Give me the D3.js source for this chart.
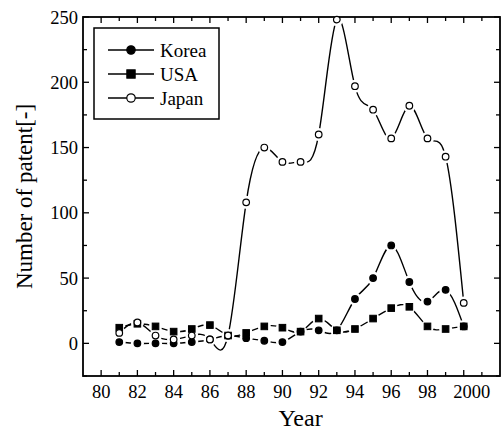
<!DOCTYPE html>
<html>
<head>
<meta charset="utf-8">
<script src="https://cdn.jsdelivr.net/npm/d3@7"></script>
<style>
  body { margin: 0; background: #fff; }
</style>
</head>
<body>
<svg id="chart" width="503" height="430" font-family="'Liberation Serif', 'DejaVu Serif', serif"></svg>
<script>
const years = [81, 82, 83, 84, 85, 86, 87, 88, 89, 90, 91, 92, 93, 94, 95, 96, 97, 98, 99, 100];
const korea = [1, 0, 0, 0, 1, 3, 6, 4, 2, 1, 9, 10, 10, 34, 50, 75, 47, 32, 41, 13];
const usa = [12, 15, 13, 9, 11, 14, 6, 8, 13, 12, 9, 19, 10, 11, 19, 27, 28, 13, 11, 13];
const japan = [8, 16, 6, 3, 6, 3, 6, 108, 150, 139, 139, 160, 248, 197, 179, 157, 182, 157, 143, 31];
const xTickLabels = ['80', '82', '84', '86', '88', '90', '92', '94', '96', '98', '2000'];

const series = [
  { name: 'Korea', values: korea, shape: 'circle', fill: '#000' },
  { name: 'USA', values: usa, shape: 'square', fill: '#000' },
  { name: 'Japan', values: japan, shape: 'circle', fill: '#fff' }
];

const svg = d3.select('#chart');
const margin = { top: 17, right: 3, bottom: 54, left: 83 };
const width = 503 - margin.left - margin.right;
const height = 430 - margin.top - margin.bottom;

const x = d3.scaleLinear().domain([79, 102]).range([0, width]);
const y = d3.scaleLinear().domain([-25, 250]).range([height, 0]);

const defs = svg.append('defs');
const g = svg.append('g').attr('transform', `translate(${margin.left},${margin.top})`);

defs.append('clipPath').attr('id', 'plotClip')
  .append('rect').attr('width', width).attr('height', height);

// axes: ticks point inward on all four sides
const majorX = d3.range(80, 101, 2);
const minorX = d3.range(81, 102, 2);
const majorY = d3.range(0, 251, 50);
const minorY = d3.range(-25, 250, 50);

function tickLines(sel, vals, scale, horizontal, pos, len) {
  sel.selectAll(null).data(vals).enter().append('line')
    .attr('x1', d => horizontal ? scale(d) : pos)
    .attr('x2', d => horizontal ? scale(d) : pos + len)
    .attr('y1', d => horizontal ? pos : scale(d))
    .attr('y2', d => horizontal ? pos + len : scale(d))
    .attr('stroke', '#000').attr('stroke-width', 1.3);
}
const ticks = g.append('g');
tickLines(ticks, majorX, x, true, height, -6);
tickLines(ticks, minorX, x, true, height, -4);
tickLines(ticks, majorX, x, true, 0, 6);
tickLines(ticks, minorX, x, true, 0, 4);
tickLines(ticks, majorY, y, false, 0, 6);
tickLines(ticks, minorY, y, false, 0, 4);
tickLines(ticks, majorY, y, false, width, -6);
tickLines(ticks, minorY, y, false, width, -4);

g.append('rect').attr('width', width).attr('height', height)
  .attr('fill', 'none').attr('stroke', '#000').attr('stroke-width', 1.8);

g.append('g').selectAll('text').data(majorX).enter().append('text')
  .attr('x', d => x(d)).attr('y', height + 22)
  .attr('dx', (d, i) => xTickLabels[i].length > 2 ? 8 : 0)
  .attr('text-anchor', 'middle').attr('font-size', 18.5)
  .text((d, i) => xTickLabels[i]);

g.append('g').selectAll('text').data(majorY).enter().append('text')
  .attr('x', -5).attr('y', d => y(d) + 6.5)
  .attr('text-anchor', 'end').attr('font-size', 18.5)
  .text(d => d);

g.append('text').attr('x', x(91)).attr('y', height + 50)
  .attr('text-anchor', 'middle').attr('font-size', 24).text('Year');

svg.append('text')
  .attr('transform', `translate(32,${margin.top + height / 2}) rotate(-90)`)
  .attr('text-anchor', 'middle').attr('font-size', 23).text('Number of patent[-]');

// series lines (with gaps around own markers) and markers
const line = d3.line().x((d, i) => x(years[i])).y(d => y(d)).curve(d3.curveNatural);
const plot = g.append('g').attr('clip-path', 'url(#plotClip)');

function drawMarker(sel, s, cx, cy, r) {
  if (s.shape === 'square') {
    sel.append('rect').attr('x', cx - r).attr('y', cy - r)
      .attr('width', 2 * r).attr('height', 2 * r)
      .attr('fill', s.fill).attr('stroke', '#000').attr('stroke-width', 1);
  } else {
    sel.append('circle').attr('cx', cx).attr('cy', cy).attr('r', r)
      .attr('fill', s.fill).attr('stroke', '#000').attr('stroke-width', 1.2);
  }
}

series.forEach((s, k) => {
  const m = defs.append('mask').attr('id', 'gap' + k)
    .attr('maskUnits', 'userSpaceOnUse')
    .attr('x', -20).attr('y', -20).attr('width', width + 40).attr('height', height + 40);
  m.append('rect').attr('x', -20).attr('y', -20)
    .attr('width', width + 40).attr('height', height + 40).attr('fill', 'white');
  m.selectAll('circle').data(s.values).enter().append('circle')
    .attr('cx', (d, i) => x(years[i])).attr('cy', d => y(d)).attr('r', 6.5).attr('fill', 'black');

  plot.append('g').attr('mask', `url(#gap${k})`)
    .append('path').datum(s.values)
    .attr('d', line).attr('fill', 'none')
    .attr('stroke', '#000').attr('stroke-width', 1.4);
});

series.forEach(s => {
  const mg = g.append('g');
  s.values.forEach((v, i) => drawMarker(mg, s, x(years[i]), y(v), 3.3));
});

// legend
const lg = svg.append('g').attr('transform', 'translate(94,28)');
lg.append('rect').attr('width', 125).attr('height', 91)
  .attr('fill', '#fff').attr('stroke', '#000').attr('stroke-width', 1.5);
series.forEach((s, i) => {
  const cy = 22 + i * 24;
  lg.append('line').attr('x1', 14).attr('x2', 60).attr('y1', cy).attr('y2', cy)
    .attr('stroke', '#000').attr('stroke-width', 1.4);
  drawMarker(lg, s, 37, cy, 4.2);
  lg.append('text').attr('x', 66).attr('y', cy + 6.5).attr('font-size', 19).text(s.name);
});
</script>
</body>
</html>
